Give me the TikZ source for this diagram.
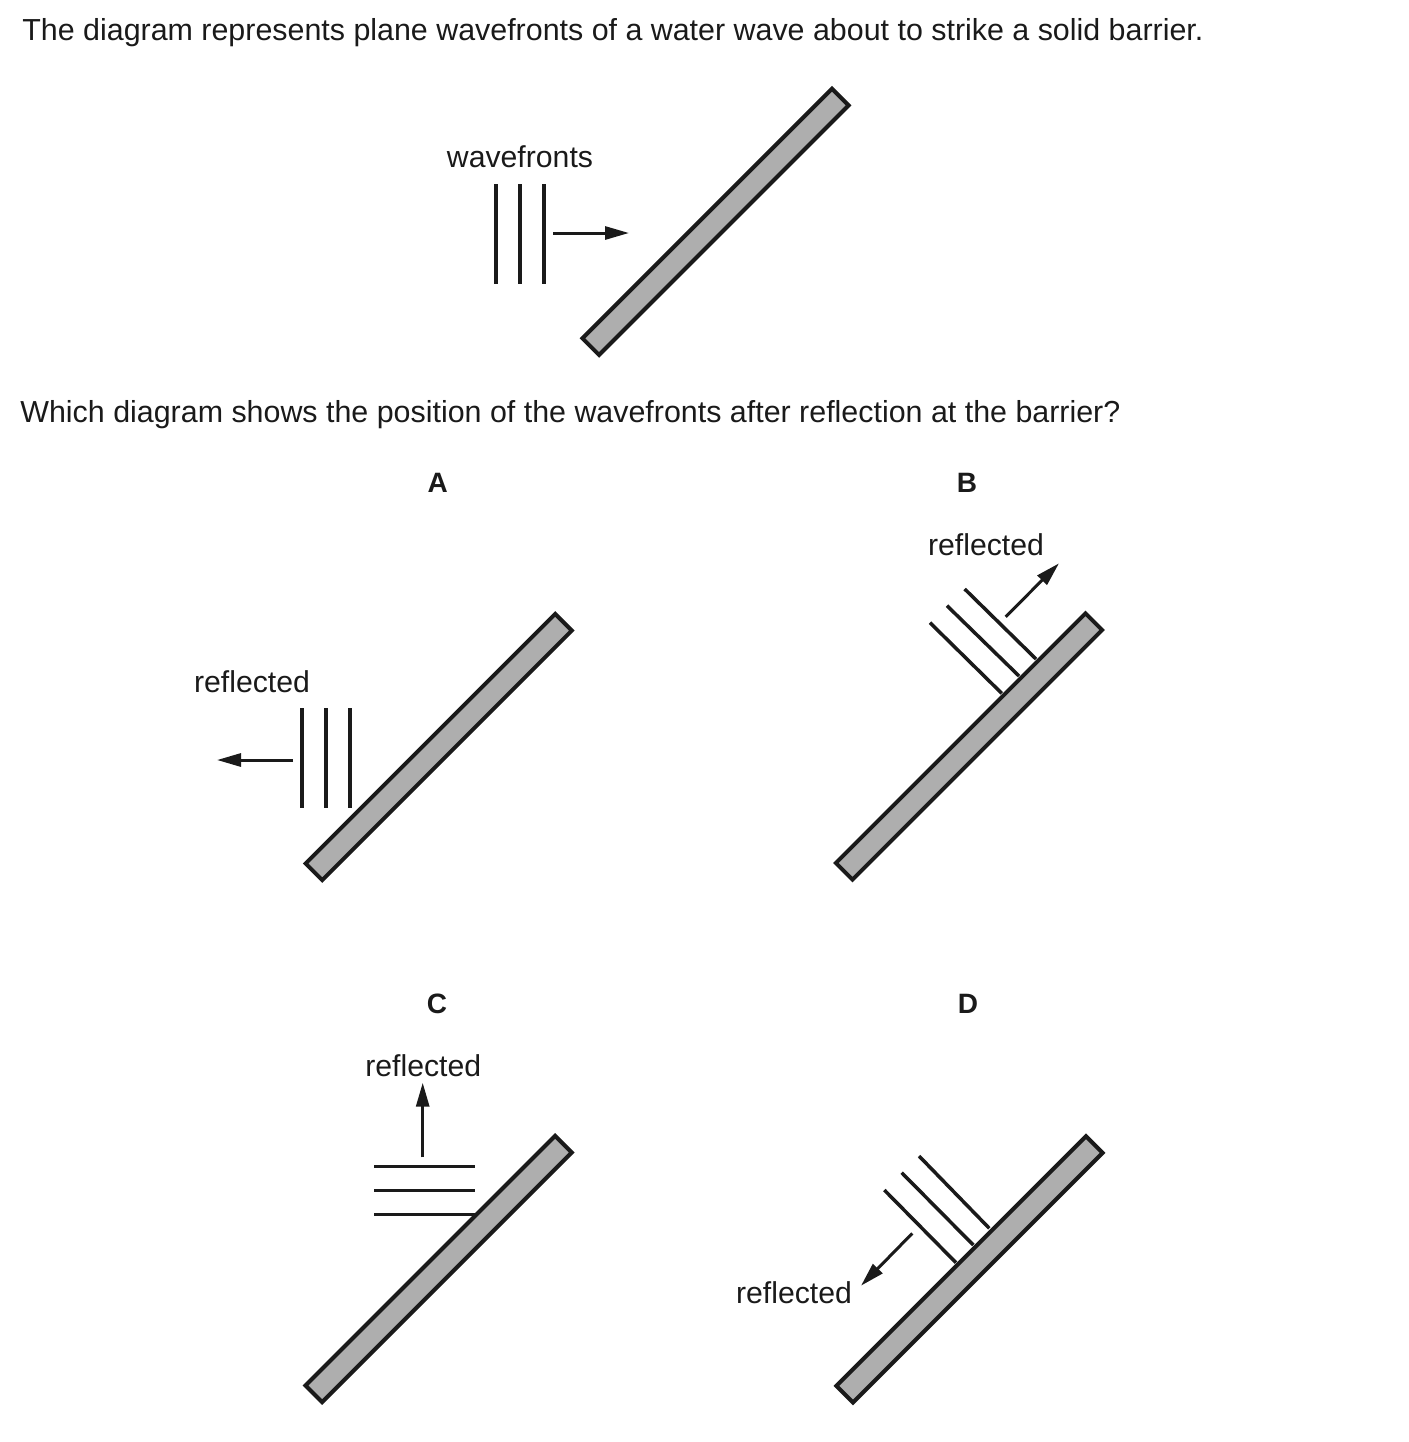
\documentclass[tikz,border=0pt]{standalone}
\usepackage{fontspec}
\setmainfont{Liberation Sans}
\usetikzlibrary{arrows.meta,calc}
\definecolor{ink}{HTML}{1A1A1A}
\definecolor{barrierfill}{HTML}{AEAEAE}

\begin{document}
\begin{tikzpicture}[
  x=0.5pt, y=-0.5pt,
  >={Triangle[length=12pt,width=6.5pt]},
  barrier/.style={draw=ink, fill=barrierfill, line width=2pt, rotate=45, minimum width=176.5pt, minimum height=11.75pt, inner sep=0pt},
  front/.style={draw=ink, line width=1.75pt},
  ray/.style={draw=ink, line width=1.5pt, ->},
  question/.style={anchor=base west, inner sep=0pt, text=ink, font=\fontsize{15.2}{18}\selectfont},
  note/.style={anchor=base, inner sep=0pt, text=ink, font=\fontsize{15.1}{18}\selectfont},
  letter/.style={anchor=base, inner sep=0pt, text=ink, font=\fontsize{14}{17}\selectfont\bfseries}
]
\useasboundingbox (0,0) rectangle (1409,1442);

% texts of the question
\node[question] (intro) at (22,40.7) {The diagram represents plane wavefronts of a water wave about to strike a solid barrier.};
\node[question] (ask) at (20,422.7) {Which diagram shows the position of the wavefronts after reflection at the barrier?};

% incident wave
\node[barrier] (barT) at (715.5,221.8) {};
\foreach \x in {496,520,544} {
  \draw[front] (\x,184) -- (\x,284);
}
\coordinate (inT0) at (553,233);
\coordinate (inT1) at (629,233);
\draw[ray] (inT0) -- (inT1);
\node[note] (wfT) at (520,167) {wavefronts};

% option A
\node[letter] (labA) at (437.8,492.7) {A};
\node[barrier] (barA) at (438.7,747) {};
\foreach \x in {302,326,350} {
  \draw[front] (\x,708) -- (\x,808);
}
\coordinate (rA0) at (293,760);
\coordinate (rA1) at (217,760);
\draw[ray] (rA0) -- (rA1);
\node[note] (refA) at (252,692) {reflected};

% option B
\node[letter] (labB) at (967,492.7) {B};
\node[barrier] (barB) at (969,746.5) {};
\foreach \xa/\ya/\xb/\yb in {930/622.7/1001.7/693.3, 947/605.7/1019/676, 964.7/589/1036/659} {
  \draw[front] (\xa,\ya) -- (\xb,\yb);
}
\coordinate (rB0) at (1005.7,616.7);
\coordinate (rB1) at (1059,563.3);
\draw[ray] (rB0) -- (rB1);
\node[note] (refB) at (986,555) {reflected};

% option C
\node[letter] (labC) at (437,1013.3) {C};
\node[barrier] (barC) at (438.6,1269) {};
\foreach \y in {1166.7,1190.7,1214.3} {
  \draw[front] (374,\y) -- (475,\y);
}
\coordinate (rC0) at (422.7,1157.3);
\coordinate (rC1) at (422.7,1082.7);
\draw[ray] (rC0) -- (rC1);
\node[note] (refC) at (423.3,1076) {reflected};

% option D
\node[letter] (labD) at (968,1013.3) {D};
\node[barrier] (barD) at (969.5,1269.4) {};
\foreach \xa/\ya/\xb/\yb in {884.3/1190/956/1262.7, 901.7/1172.7/973.3/1245, 919/1156/989.3/1228.3} {
  \draw[front] (\xa,\ya) -- (\xb,\yb);
}
\coordinate (rD0) at (912.3,1233.3);
\coordinate (rD1) at (861,1285.7);
\draw[ray] (rD0) -- (rD1);
\node[note] (refD) at (794,1303) {reflected};

\end{tikzpicture}
\end{document}
